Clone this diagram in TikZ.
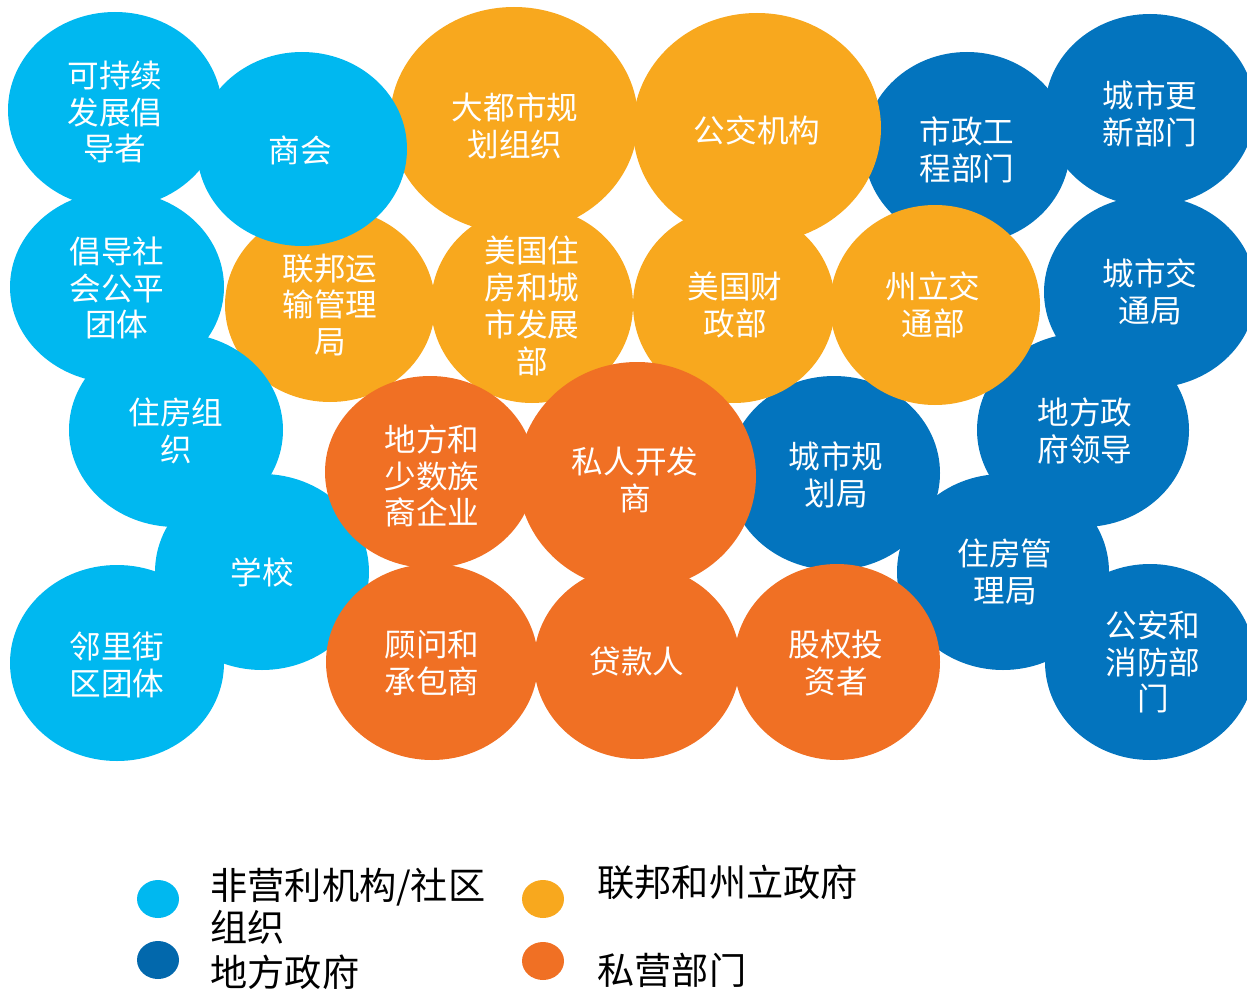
\documentclass[tikz,border=0pt]{standalone}
\usepackage{fontspec}
\newfontfamily\cjk{Noto Sans CJK SC}
\usetikzlibrary{shapes.geometric}
\definecolor{lb}{RGB}{0,184,240}
\definecolor{db}{RGB}{3,116,190}
\definecolor{dbleg}{RGB}{2,104,172}
\definecolor{yl}{RGB}{248,168,30}
\definecolor{og}{RGB}{240,112,36}
\tikzset{
  bub/.style={ellipse, inner sep=0pt, draw=none},
  lbl/.style={align=center, text=white, inner sep=0pt, font=\cjk\fontsize{15.8}{18.4}\selectfont},
  leg/.style={align=left, text=black, inner sep=0pt, anchor=west, font=\cjk\fontsize{18.6}{21}\selectfont},
  legdot/.style={ellipse, inner sep=0pt, minimum width=21pt, minimum height=19pt}
}
\begin{document}
\begin{tikzpicture}[x=0.5pt,y=-0.5pt]
\useasboundingbox (0,0) rectangle (1247,990);
% dark blue (local government)
\node[bub,fill=db,minimum width=103pt,minimum height=96pt] (c1) at (967,148) {};
\node[bub,fill=db,minimum width=105pt,minimum height=96pt] (c2) at (1150,110) {};
\node[bub,fill=db,minimum width=106pt,minimum height=96pt] (c3) at (1150,292) {};
\node[bub,fill=db,minimum width=106pt,minimum height=97pt] (c4) at (834,473) {};
\node[bub,fill=db,minimum width=106pt,minimum height=97pt] (c5) at (1083,430) {};
\node[bub,fill=db,minimum width=106pt,minimum height=98pt] (c6) at (1003,572) {};
\node[bub,fill=db,minimum width=105pt,minimum height=98pt] (c7) at (1150,662) {};
% yellow (federal & state)
\node[bub,fill=yl,minimum width=124pt,minimum height=113pt] (c8) at (514,120) {};
\node[bub,fill=yl,minimum width=124pt,minimum height=115pt] (c9) at (757,128) {};
\node[bub,fill=yl,minimum width=105pt,minimum height=97pt] (c10) at (330,305) {};
\node[bub,fill=yl,minimum width=101pt,minimum height=98pt] (c11) at (532,305) {};
\node[bub,fill=yl,minimum width=101pt,minimum height=98pt] (c12) at (734,305) {};
\node[bub,fill=yl,minimum width=105pt,minimum height=100pt] (c13) at (935,305) {};
% light blue (nonprofit / community)
\node[bub,fill=lb,minimum width=107pt,minimum height=98pt] (c14) at (115,110) {};
\node[bub,fill=lb,minimum width=105pt,minimum height=97pt] (c15) at (302,149) {};
\node[bub,fill=lb,minimum width=107pt,minimum height=96pt] (c16) at (117,287) {};
\node[bub,fill=lb,minimum width=107pt,minimum height=97pt] (c17) at (176,430) {};
\node[bub,fill=lb,minimum width=107pt,minimum height=98pt] (c18) at (262,572) {};
\node[bub,fill=lb,minimum width=107pt,minimum height=98pt] (c19) at (117,663) {};
% orange (private sector)
\node[bub,fill=og,minimum width=105pt,minimum height=96pt] (c20) at (430,472) {};
\node[bub,fill=og,minimum width=119pt,minimum height=114pt] (c21) at (637,476) {};
\node[bub,fill=og,minimum width=106pt,minimum height=98pt] (c22) at (432,662) {};
\node[bub,fill=og,minimum width=103pt,minimum height=97pt] (c23) at (637,662) {};
\node[bub,fill=og,minimum width=103pt,minimum height=98pt] (c24) at (837,662) {};
% labels
\node[lbl] (t1) at (967,150) {市政工\\程部门};
\node[lbl] (t2) at (1150,114) {城市更\\新部门};
\node[lbl] (t3) at (1150,292) {城市交\\通局};
\node[lbl] (t4) at (836,475) {城市规\\划局};
\node[lbl] (t5) at (1085,431) {地方政\\府领导};
\node[lbl] (t6) at (1005,572) {住房管\\理局};
\node[lbl] (t7) at (1153,662) {公安和\\消防部\\门};
\node[lbl] (t8) at (515,126) {大都市规\\划组织};
\node[lbl] (t9) at (757,130) {公交机构};
\node[lbl] (t10) at (330,305) {联邦运\\输管理\\局};
\node[lbl] (t11) at (532,306) {美国住\\房和城\\市发展\\部};
\node[lbl] (t12) at (735,305) {美国财\\政部};
\node[lbl] (t13) at (933,305) {州立交\\通部};
\node[lbl] (t14) at (115,112) {可持续\\发展倡\\导者};
\node[lbl] (t15) at (300,150) {商会};
\node[lbl] (t16) at (117,288) {倡导社\\会公平\\团体};
\node[lbl] (t17) at (176,431) {住房组\\织};
\node[lbl] (t18) at (262,572) {学校};
\node[lbl] (t19) at (117,665) {邻里街\\区团体};
\node[lbl] (t20) at (432,476) {地方和\\少数族\\裔企业};
\node[lbl] (t21) at (635,480) {私人开发\\商};
\node[lbl] (t22) at (432,663) {顾问和\\承包商};
\node[lbl] (t23) at (637,661) {贷款人};
\node[lbl] (t24) at (836,663) {股权投\\资者};
% legend
\node[legdot,fill=lb] (l1) at (158,899) {};
\node[legdot,fill=dbleg] (l2) at (158,960) {};
\node[legdot,fill=yl] (l3) at (543,899) {};
\node[legdot,fill=og] (l4) at (543,961) {};
\node[leg] (g1) at (210,906) {非营利机构/社区\\组织};
\node[leg] (g2) at (210,972) {地方政府};
\node[leg] (g3) at (597,882) {联邦和州立政府};
\node[leg] (g4) at (597,970) {私营部门};
\end{tikzpicture}
\end{document}
